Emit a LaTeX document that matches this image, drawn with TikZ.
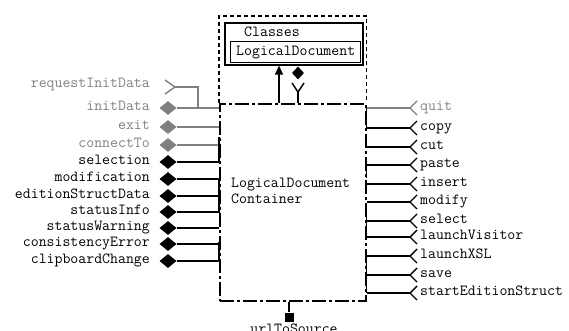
\documentclass[tikz,border=0pt]{standalone}
\usetikzlibrary{shapes.geometric,arrows.meta}
\definecolor{pgray}{RGB}{128,128,128}
\begin{document}
\begin{tikzpicture}[x=1pt,y=-1pt,
  font=\ttfamily\fontsize{15.4}{16}\selectfont,
  conn/.style={line width=1.4pt},
  dmd/.style={diamond, minimum width=17pt, minimum height=14pt, inner sep=0pt},
  lbl/.style={inner sep=0pt},
  dashdot/.style={line width=1.6pt, dash pattern=on 14pt off 3pt on 3pt off 3pt},
  framedash/.style={line width=1.6pt, dash pattern=on 4pt off 3pt},
  solidbox/.style={draw, line width=1.6pt, inner sep=0pt}]
\useasboundingbox (0,0) rectangle (569,331);

% container
\node[draw, dashdot, minimum width=146pt, minimum height=197pt, inner sep=0pt, anchor=north west] (cont) at (219,103) {};
\node[lbl, anchor=west, align=left] (contlbl) at (231,191) {LogicalDocument\\Container};

% classes frame
\draw[framedash] (cont.north west) -- ([yshift=87pt]cont.north west) -- ([yshift=87pt]cont.north east) -- (cont.north east);
\node[solidbox, minimum width=138pt, minimum height=42pt, anchor=north west] (classes) at (224,22) {};
\node[lbl] (classeslbl) at (272,32) {Classes};
\node[solidbox, line width=1.4pt, minimum width=130pt, minimum height=21pt, anchor=north west] (ld) at (230,41) {LogicalDocument};

% arrow and composition
\coordinate (a1) at (279,103);
\draw[conn, -{Triangle[length=9pt,width=8pt]}] (a1) -- (a1 |- classes.south);
\node[dmd, fill=black, minimum width=12pt, minimum height=13pt] (comp) at (298,73) {};
\coordinate (fk) at (298,92);
\draw[conn] (fk |- cont.north) -- (fk);
\draw[conn] ([shift={(-6,-9)}]fk) -- (fk) -- ([shift={(6,-9)}]fk);

% left ports
\foreach \n/\y/\c in {initData/108/pgray, exit/127/pgray, connectTo/145/pgray,
  selection/162/black, modification/179/black, editionStructData/196/black,
  statusInfo/212/black, statusWarning/228/black, consistencyError/244/black,
  clipboardChange/261/black}{
  \node[dmd, fill=\c] (d\n) at (168,\y) {};
  \node[lbl, anchor=mid east, text=\c] (l\n) at (150,\y) {\n};
  \draw[conn, draw=\c] (d\n.east) -- (d\n.east -| cont.west);
}
% requestInitData
\node[lbl, anchor=mid east, text=pgray] (lreq) at (150,85) {requestInitData};
\coordinate (rq) at (175,87);
\coordinate (rqj) at (198,108);
\draw[conn, pgray] ([shift={(-10,-7)}]rq) -- (rq) -- ([shift={(-10,7)}]rq);
\draw[conn, pgray] (rq) -| (rqj);

% solid pieces on left border
\foreach \a/\b in {137/161, 178/213, 242/262}{
  \draw[conn] (cont.west |- 0,\a) -- (cont.west |- 0,\b);
}

% right ports
\foreach \n/\y/\c in {quit/108/pgray, copy/128/black, cut/147/black, paste/165/black,
  insert/184/black, modify/202/black, select/221/black, launchVisitor/237/black,
  launchXSL/256/black, save/275/black, startEditionStruct/293/black}{
  \coordinate (r\n) at (410,\y);
  \draw[conn, draw=\c] (r\n -| cont.east) -- (r\n);
  \draw[conn, draw=\c] ([shift={(7,-7)}]r\n) -- (r\n) -- ([shift={(7,7)}]r\n);
  \node[lbl, anchor=mid west, text=\c] (rl\n) at (420,\y) {\n};
}
\foreach \a/\b in {105/128, 160/178, 208/230, 252/293}{
  \draw[conn] (cont.east |- 0,\a) -- (cont.east |- 0,\b);
}

% bottom port
\node[fill=black, minimum size=9pt, inner sep=0pt] (sq) at (289,317) {};
\draw[conn] (sq.north |- cont.south) -- (sq.north);
\node[lbl, anchor=north] (url) at (294,324) {urlToSource};
\end{tikzpicture}
\end{document}
